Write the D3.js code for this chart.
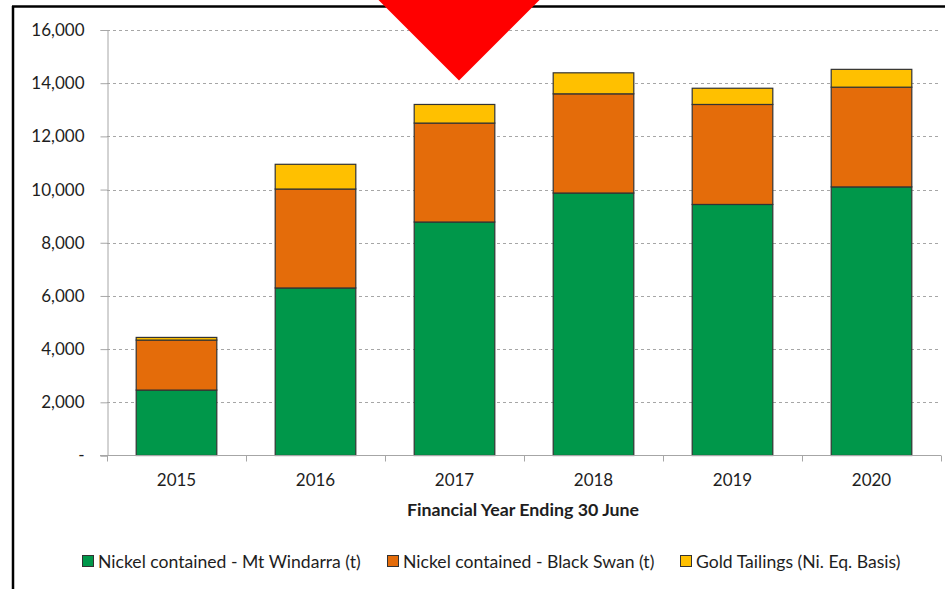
<!DOCTYPE html>
<html><head><meta charset="utf-8">
<script src="https://cdn.jsdelivr.net/npm/d3@7/dist/d3.min.js"></script>
<style>
html,body{margin:0;padding:0;background:#fff;}
svg{display:block;}
text{font-family:Lato,"Open Sans",sans-serif;fill:#1e1e1e;}
</style></head>
<body>
<script>
const years = ["2015","2016","2017","2018","2019","2020"];
const windarra = [2460, 6300, 8780, 9870, 9440, 10100];
const blackSwan = [1880, 3720, 3720, 3730, 3760, 3750];
const goldTailings = [100, 930, 700, 790, 610, 670];
const seriesNames = ["Nickel contained - Mt Windarra (t)", "Nickel contained - Black Swan (t)", "Gold Tailings (Ni. Eq. Basis)"];
const seriesColors = ["#00974A", "#E46C0A", "#FFC000"];
const yTicks = [0, 2000, 4000, 6000, 8000, 10000, 12000, 14000, 16000];

const W = 945, H = 589;
const svg = d3.select("body").append("svg").attr("width", W).attr("height", H);

const x = d3.scaleBand().domain(years).range([107, 941]).paddingInner(0.42).paddingOuter(0.21);
const y = d3.scaleLinear().domain([0, 16000]).range([455.5, 30]);

// frame
svg.append("line").attr("x1", 12).attr("x2", W).attr("y1", 6.5).attr("y2", 6.5).attr("stroke", "#000").attr("stroke-width", 2.5);
svg.append("line").attr("x1", 13).attr("x2", 13).attr("y1", 6).attr("y2", H).attr("stroke", "#000").attr("stroke-width", 2.5);

// gridlines
svg.append("g").selectAll("line").data(yTicks.filter(d => d > 0)).join("line")
  .attr("x1", 107).attr("x2", 938).attr("y1", d => Math.round(y(d)) + 0.5).attr("y2", d => Math.round(y(d)) + 0.5)
  .attr("stroke", "#a6a6a6").attr("stroke-width", 1).attr("stroke-dasharray", "3,3");

// y axis
const yAxis = d3.axisLeft(y).tickValues(yTicks).tickSize(7).tickPadding(16)
  .tickFormat(d => d === 0 ? "-" : d3.format(",")(d));
const gy = svg.append("g").attr("transform", "translate(107.5,0)").call(yAxis);
gy.select(".domain").attr("stroke", "#a6a6a6");
gy.selectAll(".tick line").attr("stroke", "#a6a6a6");
gy.selectAll(".tick text").style("font-size", "17px").attr("fill", "#1e1e1e").style("font-family", "Lato");

// stacked bars
const rows = years.map((yr, i) => ({year: yr, s0: windarra[i], s1: blackSwan[i], s2: goldTailings[i]}));
const stack = d3.stack().keys(["s0", "s1", "s2"])(rows);
svg.append("g").selectAll("g").data(stack).join("g")
  .attr("fill", (d, i) => seriesColors[i])
  .selectAll("rect").data(d => d).join("rect")
  .attr("x", d => x(d.data.year))
  .attr("width", x.bandwidth())
  .attr("y", d => y(d[1]))
  .attr("height", d => y(d[0]) - y(d[1]))
  .attr("stroke", "#333").attr("stroke-width", 1.2);

// x axis
const xb = d3.scalePoint().domain(d3.range(years.length + 1)).range([107, 941]);
const gx = svg.append("g").attr("transform", "translate(0,455.5)");
gx.append("line").attr("x1", 100).attr("x2", 941).attr("stroke", "#a6a6a6");
gx.selectAll("line.t").data(xb.domain()).join("line").attr("class", "t")
  .attr("x1", d => Math.round(xb(d)) + 0.5).attr("x2", d => Math.round(xb(d)) + 0.5).attr("y1", 0).attr("y2", 6).attr("stroke", "#a6a6a6");
gx.selectAll("text").data(years).join("text")
  .attr("x", d => x(d) + x.bandwidth() / 2).attr("y", 30)
  .attr("text-anchor", "middle").style("font-size", "17px").text(d => d);

svg.append("text").attr("x", 523).attr("y", 516).attr("text-anchor", "middle")
  .style("font-size", "17.8px").style("font-weight", "bold").text("Financial Year Ending 30 June");

// legend
const legX = [82, 387, 680];
const leg = svg.append("g");
seriesNames.forEach((n, i) => {
  leg.append("rect").attr("x", legX[i] + 0.5).attr("y", 555.5).attr("width", 11).attr("height", 11)
    .attr("fill", seriesColors[i]).attr("stroke", "#333").attr("stroke-width", 1);
  leg.append("text").attr("x", legX[i] + 16).attr("y", 567.5).style("font-size", "17.6px").text(n);
});

// red triangle annotation
const cx = x("2017") + x.bandwidth() / 2 + 4.5;
const tipY = y(14100);
svg.append("path")
  .attr("d", d3.line()([[cx - tipY, 0], [cx + tipY, 0], [cx, tipY]]) + "Z")
  .attr("fill", "#FF0000");
</script>
</body></html>
